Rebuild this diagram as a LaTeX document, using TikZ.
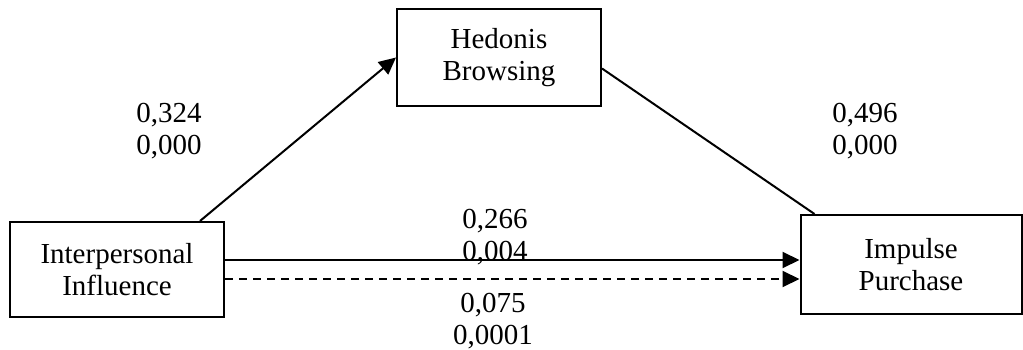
\documentclass[tikz,border=0pt]{standalone}
\usepackage{fontspec}
\setmainfont{Liberation Serif}
\usetikzlibrary{arrows.meta,calc}
\begin{document}
\begin{tikzpicture}[x=1pt,y=-1pt,
  box/.style={draw,line width=2pt,align=center,inner sep=0pt},
  link/.style={line width=2pt},
  arr/.style={link,-{Triangle[length=17pt,width=16pt]}},
  coef/.style={align=center,inner sep=0pt},
  font=\fontsize{29}{32}\selectfont]
\useasboundingbox (0,0) rectangle (1023,350);
% variables
\node[box,minimum width=204pt,minimum height=97pt] (hb) at (499,57.5) {Hedonis\\Browsing};
\node[box,minimum width=214pt,minimum height=95pt] (ip) at (117,269.5) {Interpersonal\\Influence};
\node[box,minimum width=221pt,minimum height=99pt] (pp) at (911,264.5) {Impulse\\Purchase};
% paths
\coordinate (a1) at ([xshift=83pt]ip.north);
\draw[arr] (a1) -- (hb.west);
\coordinate (b1) at ([yshift=-11pt]hb.east);
\coordinate (b2) at ([xshift=15pt]pp.north west);
\draw[link] (b1) -- (b2);
\coordinate (c1) at ([yshift=9.5pt]ip.east);
\draw[arr] (c1) -- (c1 -| pp.west);
\coordinate (d1) at ([yshift=-9.5pt]ip.east);
\draw[arr,dash pattern=on 8pt off 6pt] (d1) -- (d1 -| pp.west);
% coefficients
\node[coef] (l1) at (169,131) {0,324\\0,000};
\node[coef] (l2) at (865,131) {0,496\\0,000};
\node[coef] (l3) at (495,237) {0,266\\0,004};
\node[coef] (l4) at (493,321) {0,075\\0,0001};
\end{tikzpicture}
\end{document}
